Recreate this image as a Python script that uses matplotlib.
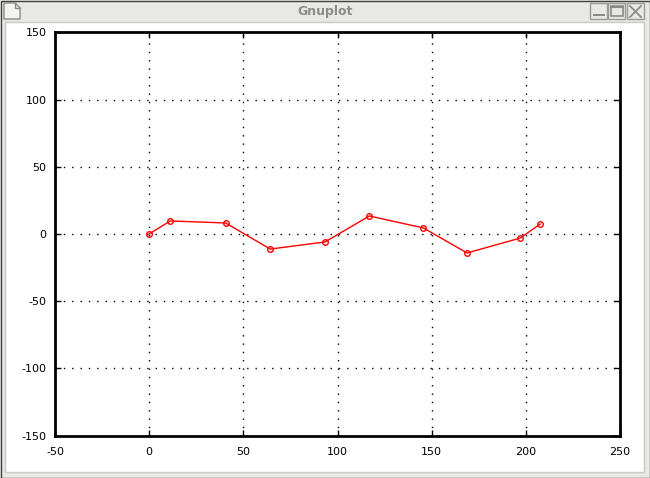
import matplotlib
matplotlib.use("Agg")
import matplotlib.pyplot as plt
from matplotlib.patches import Rectangle, Polygon
from matplotlib.lines import Line2D

# Data
x_vals = [0, 11.2, 40.6, 64.3, 93.4, 116.9, 145.6, 168.8, 197.1, 207.6]
y_vals = [0, 9.7, 8.2, -11.2, -5.9, 13.4, 4.5, -14.1, -3.0, 7.4]
x_ticks = [-50, 0, 50, 100, 150, 200, 250]
y_ticks = [-150, -100, -50, 0, 50, 100, 150]
window_title = "Gnuplot"

W, H = 650, 478
fig = plt.figure(figsize=(W / 100, H / 100), dpi=100)
fig.patch.set_facecolor("#e8e8e4")

def P(x, y):
    return x / W, 1 - y / H

def rect(x0, y0, x1, y1, **kw):
    fx0, fy1 = P(x0, y1)
    fig.add_artist(Rectangle((fx0, fy1), (x1 - x0) / W, (y1 - y0) / H,
                             transform=fig.transFigure, zorder=-5, **kw))

def line(xs, ys, **kw):
    fx = [x / W for x in xs]
    fy = [1 - y / H for y in ys]
    fig.add_artist(Line2D(fx, fy, transform=fig.transFigure, zorder=-4, **kw))

# window chrome
rect(0.5, 0.5, 649.5, 477.5, facecolor="none", edgecolor="#404040", lw=1)
rect(5, 22, 644, 472, facecolor="white", edgecolor="#c8c8c4", lw=1)
fig.text(0.5, 1 - 11 / H, window_title, ha="center", va="center",
         fontsize=9, fontweight="bold", color="#8a8a8a", family="DejaVu Sans")

# document icon at left
pts = [P(4, 3), P(15, 3), P(20, 8), P(20, 19), P(4, 19)]
fig.add_artist(Polygon(pts, closed=True, transform=fig.transFigure,
                       facecolor="#f4f4f2", edgecolor="#8a8a8a", lw=1, zorder=-4))
line([15, 15, 20], [3, 8, 8], color="#8a8a8a", lw=1)

# window buttons
for bx in (590, 608, 627):
    rect(bx, 3, bx + 17, 19, facecolor="#e8e8e4", edgecolor="#9a9a9a", lw=1)
# minimize
rect(593, 14, 605, 16, facecolor="#8a8a8a", edgecolor="none")
# maximize
rect(611, 6, 623, 16, facecolor="none", edgecolor="#8a8a8a", lw=1.2)
line([611, 623], [7, 7], color="#8a8a8a", lw=1.5)
# close
line([630, 641], [6, 17], color="#8a8a8a", lw=1.3)
line([630, 641], [17, 6], color="#8a8a8a", lw=1.3)

# plot axes
x0, y0 = P(55, 435.7)
x1, y1 = P(620, 32.3)
ax = fig.add_axes([x0, y0, x1 - x0, y1 - y0], zorder=5)
ax.set_facecolor("white")
ax.set_xlim(-50, 250)
ax.set_ylim(-150, 150)
ax.set_xticks(x_ticks)
ax.set_yticks(y_ticks)
ax.set_xticklabels([str(t) for t in x_ticks])
ax.set_yticklabels([str(t) for t in y_ticks])
for s in ax.spines.values():
    s.set_linewidth(2)
    s.set_color("black")
ax.tick_params(direction="in", length=4, width=1, labelsize=8,
               top=True, right=True, pad=8, colors="black")
ax.tick_params(axis="y", pad=6)
ax.grid(True, color="black", linestyle=(0, (1, 5)), linewidth=1)

ax.plot(x_vals, y_vals, color="red", lw=1, marker="o", markersize=4,
        markerfacecolor="none", markeredgecolor="red", markeredgewidth=1,
        zorder=3)

fig.savefig("out.png", dpi=100, facecolor=fig.get_facecolor())
